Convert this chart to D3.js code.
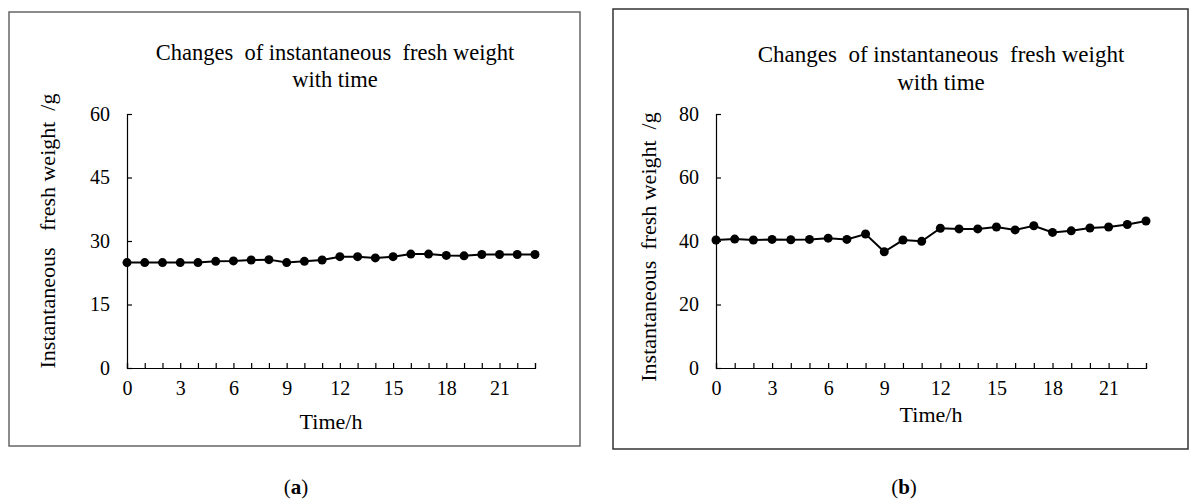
<!DOCTYPE html>
<html>
<head>
<meta charset="utf-8">
<script src="https://cdn.jsdelivr.net/npm/d3@7"></script>
<style>
  body { margin: 0; background: #fff; }
  svg text { font-family: "Liberation Serif", "Times New Roman", serif; fill: #000; }
</style>
</head>
<body>
<svg id="chart" width="1189" height="500"></svg>
<script>
// hours 0..23
var hours = d3.range(0, 24);
var xTickLabels = [0, 3, 6, 9, 12, 15, 18, 21];

// panel (a) instantaneous fresh weight, g
var weightA = [24.9, 24.9, 24.9, 24.9, 24.9, 25.2, 25.3, 25.5, 25.6, 24.9, 25.2, 25.5,
               26.3, 26.3, 26.0, 26.3, 26.9, 26.9, 26.6, 26.5, 26.8, 26.8, 26.8, 26.8];
var yTicksA = [0, 15, 30, 45, 60];

// panel (b)
var weightB = [40.3, 40.6, 40.3, 40.5, 40.4, 40.5, 40.9, 40.5, 42.2, 36.6, 40.3, 39.9,
               44.0, 43.8, 43.8, 44.4, 43.5, 44.8, 42.7, 43.2, 44.1, 44.4, 45.2, 46.3];
var yTicksB = [0, 20, 40, 60, 80];

var titleLines = ["Changes  of instantaneous  fresh weight", "with time"];

var svg = d3.select("#chart");
var serif = "Liberation Serif";

function drawPanel(p) {
    // outer frame
    svg.append("rect")
        .attr("x", p.frame[0]).attr("y", p.frame[1])
        .attr("width", p.frame[2] - p.frame[0])
        .attr("height", p.frame[3] - p.frame[1])
        .attr("fill", "none")
        .attr("stroke", p.frameColor)
        .attr("stroke-width", 1.5);

    var x = d3.scaleLinear().domain([0, 23]).range([p.left, p.right]);
    var y = d3.scaleLinear().domain([0, d3.max(p.yTicks)]).range([p.bottom, p.top]);

    var g = svg.append("g");

    // y axis, ticks point inward
    var yAxis = g.append("g")
        .attr("transform", "translate(" + p.left + ",0)")
        .call(d3.axisLeft(y).tickValues(p.yTicks).tickSize(-5).tickPadding(17));
    // x axis
    var xAxis = g.append("g")
        .attr("transform", "translate(0," + p.bottom + ")")
        .call(d3.axisBottom(x).tickValues(hours).tickSize(-5).tickPadding(13)
              .tickFormat(function (d) { return xTickLabels.indexOf(d) >= 0 ? d : ""; }));

    [yAxis, xAxis].forEach(function (a) {
        a.attr("font-family", serif).attr("font-size", 20);
        a.select(".domain").attr("stroke", "#000").attr("stroke-width", 1.2);
        a.selectAll(".tick line").attr("stroke", "#000").attr("stroke-width", 1.2);
        a.selectAll(".tick text").attr("font-size", 20).attr("font-family", serif);
    });

    // line + markers
    var line = d3.line()
        .x(function (d, i) { return x(hours[i]); })
        .y(function (d) { return y(d); });

    g.append("path")
        .datum(p.values)
        .attr("d", line)
        .attr("fill", "none")
        .attr("stroke", "#000")
        .attr("stroke-width", 2);

    g.selectAll("circle.pt")
        .data(p.values)
        .enter()
        .append("circle")
        .attr("class", "pt")
        .attr("cx", function (d, i) { return x(hours[i]); })
        .attr("cy", function (d) { return y(d); })
        .attr("r", 4.5)
        .attr("fill", "#000");

    // title
    titleLines.forEach(function (t, i) {
        g.append("text")
            .attr("x", p.titleX)
            .attr("y", p.titleY + i * p.titleGap)
            .attr("text-anchor", "middle")
            .attr("font-family", serif)
            .attr("font-size", p.titleSize)
            .style("white-space", "pre")
            .text(t);
    });

    // axis titles
    g.append("text")
        .attr("x", (p.left + p.right) / 2)
        .attr("y", p.xTitleY)
        .attr("text-anchor", "middle")
        .attr("font-family", serif)
        .attr("font-size", 22)
        .text("Time/h");

    g.append("text")
        .attr("transform", "translate(" + p.yTitleX + "," + p.yTitleY + ") rotate(-90)")
        .attr("text-anchor", "middle")
        .attr("font-family", serif)
        .attr("font-size", 22)
        .style("white-space", "pre")
        .text(p.yTitle);

    // caption
    var cap = svg.append("text")
        .attr("x", p.capX)
        .attr("y", 494)
        .attr("text-anchor", "middle")
        .attr("font-family", serif)
        .attr("font-size", 21);
    cap.append("tspan").text("(");
    cap.append("tspan").attr("font-weight", "bold").text(p.cap);
    cap.append("tspan").text(")");
}

drawPanel({
    frame: [9, 12, 580, 446], frameColor: "#666",
    left: 127, right: 535, top: 114, bottom: 368,
    yTicks: yTicksA, values: weightA,
    titleX: 335, titleY: 60, titleGap: 27, titleSize: 22.5,
    xTitleY: 429, yTitleX: 55, yTitleY: 231,
    yTitle: "Instantaneous   fresh weight  /g",
    capX: 296, cap: "a"
});

drawPanel({
    frame: [613, 9, 1188, 449], frameColor: "#333",
    left: 716, right: 1146, top: 114, bottom: 368,
    yTicks: yTicksB, values: weightB,
    titleX: 941, titleY: 62, titleGap: 28, titleSize: 23,
    xTitleY: 422, yTitleX: 656, yTitleY: 247,
    yTitle: "Instantaneous  fresh weight  /g",
    capX: 904, cap: "b"
});
</script>
</body>
</html>
